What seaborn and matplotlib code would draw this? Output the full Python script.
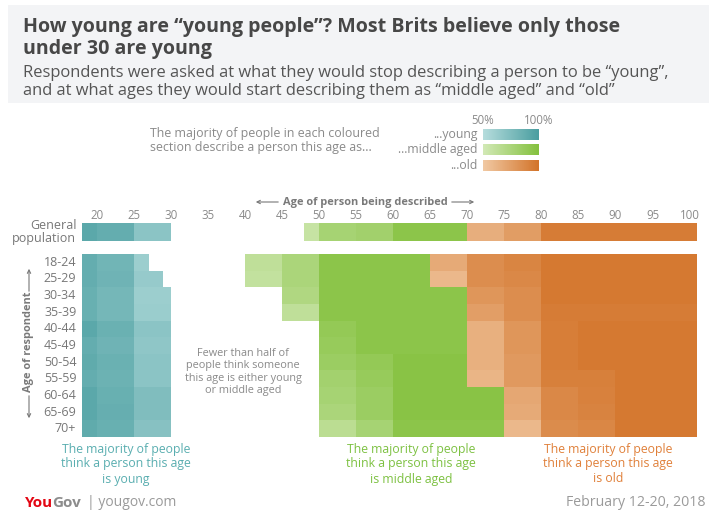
import numpy as np
import pandas as pd
import matplotlib
matplotlib.use("Agg")
import matplotlib.pyplot as plt
import seaborn as sns
from matplotlib.colors import LinearSegmentedColormap

sns.set_style("white")
plt.rcParams["font.family"] = ["Open Sans", "DejaVu Sans"]

# ages of the person being described (one column per year)
ages = list(range(18, 101))
tick_ages = list(range(20, 101, 5))
row_labels = ["18-24", "25-29", "30-34", "35-39", "40-44", "45-49",
              "50-54", "55-59", "60-64", "65-69", "70+"]

# (from age, to age, % saying so) - only where the share is 50% or more
gen_young = [(18, 20, 92), (20, 25, 88), (25, 30, 70)]
gen_middle = [(48, 50, 58), (50, 55, 78), (55, 60, 81), (60, 70, 95)]
gen_old = [(70, 75, 66), (75, 80, 76), (80, 101, 95)]

young = {
    "18-24": [(18, 20, 88), (20, 25, 82), (25, 27, 62)],
    "25-29": [(18, 20, 88), (20, 25, 83), (25, 29, 65)],
    "30-34": [(18, 20, 86), (20, 25, 80), (25, 30, 62)],
    "35-39": [(18, 20, 86), (20, 25, 80), (25, 30, 63)],
    "40-44": [(18, 20, 92), (20, 25, 85), (25, 30, 70)],
    "45-49": [(18, 20, 88), (20, 25, 83), (25, 30, 68)],
    "50-54": [(18, 20, 90), (20, 25, 85), (25, 30, 70)],
    "55-59": [(18, 20, 88), (20, 25, 84), (25, 30, 70)],
    "60-64": [(18, 20, 92), (20, 25, 86), (25, 30, 75)],
    "65-69": [(18, 20, 92), (20, 25, 87), (25, 30, 75)],
    "70+":   [(18, 20, 90), (20, 25, 86), (25, 30, 72)],
}
middle = {
    "18-24": [(40, 45, 62), (45, 50, 75), (50, 65, 95)],
    "25-29": [(40, 45, 60), (45, 50, 75), (50, 65, 95)],
    "30-34": [(45, 50, 72), (50, 70, 95)],
    "35-39": [(45, 50, 62), (50, 70, 95)],
    "40-44": [(50, 55, 90), (55, 70, 95)],
    "45-49": [(50, 55, 88), (55, 70, 95)],
    "50-54": [(50, 55, 85), (55, 60, 90), (60, 70, 97)],
    "55-59": [(50, 55, 80), (55, 60, 88), (60, 70, 97)],
    "60-64": [(50, 55, 78), (55, 60, 85), (60, 75, 97)],
    "65-69": [(50, 55, 75), (55, 60, 85), (60, 75, 97)],
    "70+":   [(50, 55, 65), (55, 60, 78), (60, 75, 95)],
}
old = {
    "18-24": [(65, 70, 68), (70, 75, 85), (75, 80, 90), (80, 101, 97)],
    "25-29": [(65, 70, 60), (70, 75, 85), (75, 80, 88), (80, 101, 97)],
    "30-34": [(70, 75, 80), (75, 80, 85), (80, 101, 97)],
    "35-39": [(70, 75, 75), (75, 80, 85), (80, 101, 95)],
    "40-44": [(70, 75, 65), (75, 80, 80), (80, 85, 94), (85, 101, 97)],
    "45-49": [(70, 75, 65), (75, 80, 80), (80, 85, 94), (85, 101, 97)],
    "50-54": [(70, 75, 65), (75, 80, 78), (80, 85, 94), (85, 101, 97)],
    "55-59": [(70, 75, 62), (75, 80, 78), (80, 90, 93), (90, 101, 97)],
    "60-64": [(75, 80, 70), (80, 85, 88), (85, 90, 92), (90, 101, 97)],
    "65-69": [(75, 80, 68), (80, 85, 88), (85, 90, 91), (90, 101, 97)],
    "70+":   [(75, 80, 60), (80, 85, 86), (85, 90, 89), (90, 101, 97)],
}

cmaps = {
    "young": LinearSegmentedColormap.from_list("y", ["#b6dddd", "#4a9ea0"]),
    "middle": LinearSegmentedColormap.from_list("m", ["#d2e9b6", "#84c13e"]),
    "old": LinearSegmentedColormap.from_list("o", ["#f1c9a3", "#d3742a"]),
}


def to_frame(rows):
    df = pd.DataFrame(np.nan, index=list(rows.keys()), columns=ages)
    for lab, segs in rows.items():
        for a0, a1, pct in segs:
            df.loc[lab, a0:a1 - 1] = pct
    return df


W, H = 709, 513
fig = plt.figure(figsize=(W / 100, H / 100), dpi=100)


def px_axes(x0, y0, x1, y1):
    return fig.add_axes([x0 / W, 1 - y1 / H, (x1 - x0) / W, (y1 - y0) / H])


def ftext(x, y, s, **kw):
    fig.text(x / W, 1 - y / H, s, **kw)


# title band
band = px_axes(8, 5, 709, 103)
band.set_facecolor("#f3f4f6")
band.set_xticks([])
band.set_yticks([])
for s in band.spines.values():
    s.set_visible(False)
ftext(23, 27, "How young are \u201cyoung people\u201d? Most Brits believe only those",
      fontsize=14.1, fontweight="bold", color="#474747", va="center")
ftext(23, 49, "under 30 are young", fontsize=14.1, fontweight="bold",
      color="#474747", va="center")
ftext(23, 73, "Respondents were asked at what they would stop describing a person to be \u201cyoung\u201d,",
      fontsize=11.9, color="#555555", va="center")
ftext(23, 91, "and at what ages they would start describing them as \u201cmiddle aged\u201d and \u201cold\u201d",
      fontsize=11.9, color="#555555", va="center")

x_left = 96.7 - 2 * 7.41
x_right = x_left + 83 * 7.41

# general population strip
ax_gen = px_axes(x_left, 223, x_right, 241)
for key, segs in [("young", gen_young), ("middle", gen_middle), ("old", gen_old)]:
    d = to_frame({"General\npopulation": segs})
    sns.heatmap(d, ax=ax_gen, cmap=cmaps[key], vmin=50, vmax=100, cbar=False,
                linewidths=0)
ax_gen.xaxis.tick_top()
ax_gen.set_xticks([a - 18 for a in tick_ages])
ax_gen.set_xticklabels(tick_ages, rotation=0)
ax_gen.tick_params(axis="x", length=0, pad=1, labelsize=8.3, labelcolor="#8a8a8a")
ax_gen.tick_params(axis="y", length=0, pad=4, labelsize=9, labelcolor="#777777")
ax_gen.set_yticklabels(["General\npopulation"], rotation=0, linespacing=1.0)
ax_gen.set_xlabel("")
ax_gen.set_ylabel("")

# respondent age groups
ax = px_axes(x_left, 254, x_right, 437)
for key, rows in [("young", young), ("middle", middle), ("old", old)]:
    d = to_frame(rows)
    sns.heatmap(d, ax=ax, cmap=cmaps[key], vmin=50, vmax=100, cbar=False,
                linewidths=0)
ax.set_xticks([])
ax.set_yticklabels(row_labels, rotation=0)
ax.tick_params(axis="y", length=0, pad=4, labelsize=9, labelcolor="#777777")
ax.set_xlabel("")
ax.set_ylabel("")

# axis captions with arrows
ftext(365, 202, "Age of person being described", fontsize=7.9, fontweight="bold",
      color="#7a7a7a", ha="center", va="center")
arrows = [((281, 202), (253, 202)), ((449, 202), (477, 202)),
          ((29, 294), (29, 266)), ((29, 393), (29, 421))]
for (xa, ya), (xb, yb) in arrows:
    fig.patches.append(matplotlib.patches.FancyArrowPatch(
        (xa / W, 1 - ya / H), (xb / W, 1 - yb / H), transform=fig.transFigure,
        arrowstyle="->", mutation_scale=6, color="#777777", lw=0.8))
ftext(29, 342, "Age of respondent", fontsize=7.9, fontweight="bold",
      color="#7a7a7a", ha="center", va="center", rotation=90)

# legend
ftext(150, 140, "The majority of people in each coloured\nsection describe a person this age as...",
      fontsize=8.9, color="#8a8a8a", va="center", linespacing=1.1)
ftext(483, 121, "50%", fontsize=8.3, color="#8a8a8a", ha="center", va="center")
ftext(539, 121, "100%", fontsize=8.3, color="#8a8a8a", ha="center", va="center")
grad = np.linspace(50, 100, 100).reshape(1, -1)
for (key, lab), (y0, y1) in zip([("young", "...young"), ("middle", "...middle aged"),
                                  ("old", "...old")],
                                 [(129, 140), (144, 155), (160, 171)]):
    lax = px_axes(483, y0, 539, y1)
    lax.imshow(grad, aspect="auto", cmap=cmaps[key], vmin=50, vmax=100)
    lax.axis("off")
    ftext(478, (y0 + y1) / 2, lab, fontsize=8.8, color="#8a8a8a", ha="right", va="center")

ftext(243, 372, "Fewer than half of\npeople think someone\nthis age is either young\nor middle aged",
      fontsize=7.8, color="#8a8a8a", ha="center", va="center", linespacing=1.15)

# bottom notes
notes = [(126, "is young", "#5aaeb0"), (411, "is middle aged", "#7dc142"),
         (608, "is old", "#e0803a")]
for x, last, col in notes:
    ftext(x, 464, "The majority of people\nthink a person this age\n" + last,
          fontsize=8.8, color=col, ha="center", va="center", linespacing=1.2)

# footer
ftext(25, 503, "You", fontsize=11, fontweight="bold", color="#e30613", va="center")
ftext(52, 503, "Gov", fontsize=11, fontweight="bold", color="#8c8c8c", va="center")
ftext(87, 503, "| yougov.com", fontsize=10, color="#9a9a9a", va="center")
ftext(705, 503, "February 12-20, 2018", fontsize=10.2, color="#9a9a9a",
      ha="right", va="center")

fig.savefig("out.png", dpi=100)
